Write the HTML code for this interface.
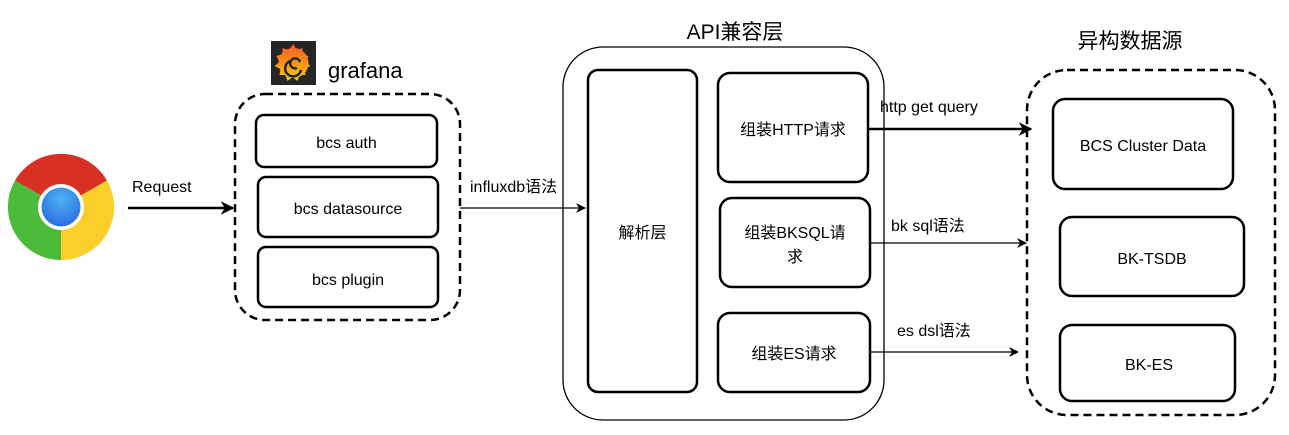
<!DOCTYPE html>
<html><head><meta charset="utf-8"><style>
html,body{margin:0;padding:0;background:#fff;}
svg{display:block;}
text{font-family:"Liberation Sans","Noto Sans CJK SC",sans-serif;fill:#000;}
</style></head><body>
<svg width="1289" height="435" viewBox="0 0 1289 435" xmlns="http://www.w3.org/2000/svg">
<defs>
<marker id="ah" viewBox="0 0 10 10" refX="9" refY="5" markerWidth="10" markerHeight="10" markerUnits="userSpaceOnUse" orient="auto"><path d="M0,0 L10,5 L0,10 L3,5 z" fill="#000"/></marker>
<marker id="ahb" viewBox="0 0 10 10" refX="9" refY="5" markerWidth="5.5" markerHeight="5.5" orient="auto"><path d="M0,0 L10,5 L0,10 L3,5 z" fill="#000"/></marker>
<linearGradient id="gf" x1="0" y1="0" x2="0" y2="1"><stop offset="0" stop-color="#f05a28"/><stop offset="1" stop-color="#fbca0a"/></linearGradient>
<radialGradient id="bl" cx="0.5" cy="0.3" r="0.7"><stop offset="0" stop-color="#4fb0f5"/><stop offset="1" stop-color="#2a6fe0"/></radialGradient>
</defs>

<!-- Chrome -->
<g transform="translate(61,207)">
<path d="M0,0 L-46,-26.5 A53,53 0 0 1 46,-26.5 Z" fill="#d93025"/>
<path d="M0,0 L46,-26.5 A53,53 0 0 1 0,53 Z" fill="#fbcf2a"/>
<path d="M0,0 L0,53 A53,53 0 0 1 -46,-26.5 Z" fill="#4cbb3a"/>
<circle r="23" fill="#fff"/>
<circle r="19.5" fill="url(#bl)"/>
</g>

<!-- Request arrow -->
<text x="132" y="192" font-size="16">Request</text>
<line x1="128" y1="208" x2="233" y2="208" stroke="#000" stroke-width="2.5" marker-end="url(#ahb)"/>

<!-- grafana -->
<rect x="271" y="41" width="45" height="44" fill="#262626"/>
<circle cx="293.5" cy="63" r="15" fill="url(#gf)"/>
<path d="M293.5,44 l3,6 6,-2 0,6 6,2 -3,6 5,4 -6,3 1,6 -6,0 -2,6 -5,-4 -5,4 -2,-6 -6,0 1,-6 -6,-3 5,-4 -3,-6 6,-2 0,-6 6,2z" fill="url(#gf)"/>
<path d="M297,68 a5,5 0 1 1 3,-6 M290,61 a8,8 0 1 0 11,9" fill="none" stroke="#262626" stroke-width="2.5"/>
<text x="328" y="78" font-size="22">grafana</text>

<rect x="235" y="94" width="225" height="226" rx="30" fill="none" stroke="#000" stroke-width="2.5" stroke-dasharray="8,5"/>
<rect x="256" y="115" width="181" height="52" rx="8" fill="none" stroke="#000" stroke-width="2.5"/>
<text x="346.5" y="148" font-size="16" text-anchor="middle">bcs auth</text>
<rect x="258" y="177" width="180" height="60" rx="8" fill="none" stroke="#000" stroke-width="2.5"/>
<text x="348" y="214" font-size="16" text-anchor="middle">bcs datasource</text>
<rect x="258" y="247" width="180" height="60" rx="8" fill="none" stroke="#000" stroke-width="2.5"/>
<text x="348" y="285" font-size="16" text-anchor="middle">bcs plugin</text>

<!-- influxdb -->
<text x="470" y="192" font-size="16">influxdb语法</text>
<line x1="460" y1="208" x2="585" y2="208" stroke="#000" stroke-width="1.3" marker-end="url(#ah)"/>

<!-- API -->
<text x="735" y="39" font-size="21" text-anchor="middle">API兼容层</text>
<rect x="563" y="47" width="321" height="373" rx="40" fill="none" stroke="#000" stroke-width="1.3"/>
<rect x="588" y="70" width="109" height="322" rx="10" fill="none" stroke="#000" stroke-width="2.5"/>
<text x="642.5" y="238" font-size="16" text-anchor="middle">解析层</text>
<rect x="718" y="73" width="150" height="109" rx="12" fill="none" stroke="#000" stroke-width="2.5"/>
<text x="793" y="135" font-size="16" text-anchor="middle">组装HTTP请求</text>
<rect x="720" y="198" width="150" height="89" rx="12" fill="none" stroke="#000" stroke-width="2.5"/>
<text x="795" y="238" font-size="16" text-anchor="middle">组装BKSQL请</text>
<text x="795" y="262" font-size="16" text-anchor="middle">求</text>
<rect x="718" y="313" width="152" height="79" rx="12" fill="none" stroke="#000" stroke-width="2.5"/>
<text x="794" y="359" font-size="16" text-anchor="middle">组装ES请求</text>

<!-- right arrows -->
<text x="880" y="112" font-size="16">http get query</text>
<line x1="868" y1="129" x2="1031" y2="129" stroke="#000" stroke-width="2.5" marker-end="url(#ahb)"/>
<text x="891" y="231" font-size="16">bk sql语法</text>
<line x1="870" y1="243" x2="1026" y2="243" stroke="#000" stroke-width="1.3" marker-end="url(#ah)"/>
<text x="897" y="336" font-size="16">es dsl语法</text>
<line x1="870" y1="352" x2="1018" y2="352" stroke="#000" stroke-width="1.3" marker-end="url(#ah)"/>

<!-- data sources -->
<text x="1130" y="48" font-size="21" text-anchor="middle">异构数据源</text>
<rect x="1027" y="70" width="248" height="345" rx="40" fill="none" stroke="#000" stroke-width="2.5" stroke-dasharray="8,5"/>
<rect x="1053" y="99" width="180" height="90" rx="12" fill="none" stroke="#000" stroke-width="2.5"/>
<text x="1143" y="151" font-size="16" text-anchor="middle">BCS Cluster Data</text>
<rect x="1060" y="217" width="184" height="79" rx="12" fill="none" stroke="#000" stroke-width="2.5"/>
<text x="1152" y="264" font-size="16" text-anchor="middle">BK-TSDB</text>
<rect x="1060" y="325" width="175" height="76" rx="12" fill="none" stroke="#000" stroke-width="2.5"/>
<text x="1149" y="370" font-size="16" text-anchor="middle">BK-ES</text>
</svg>
</body></html>
